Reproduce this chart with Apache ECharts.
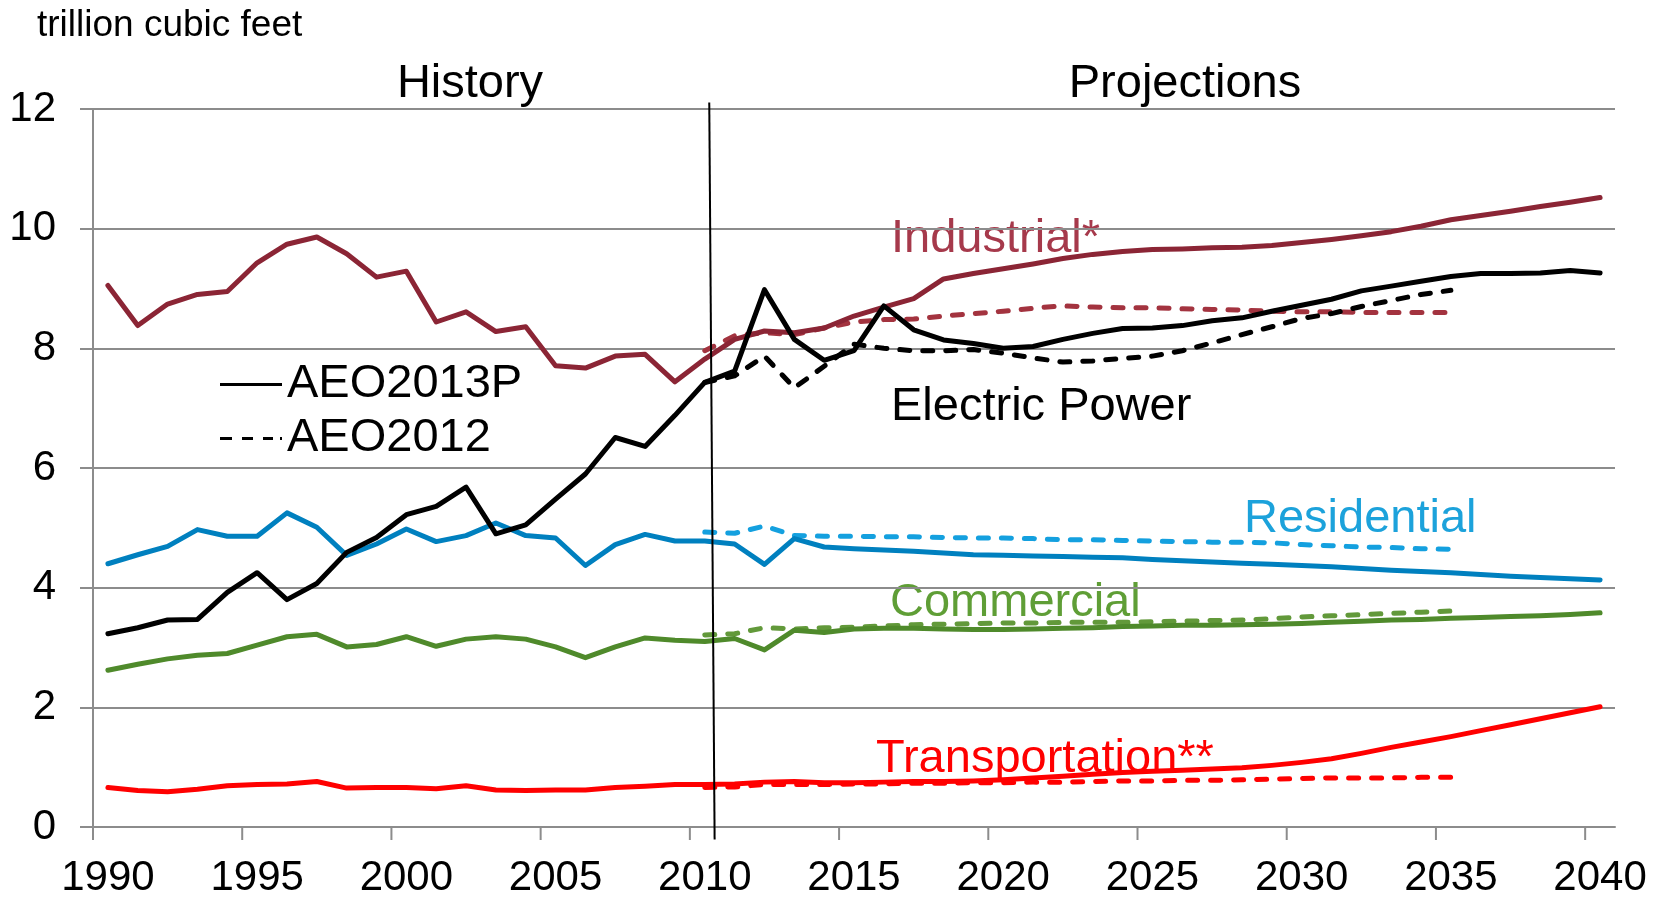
<!DOCTYPE html>
<html><head><meta charset="utf-8">
<script src="https://cdn.jsdelivr.net/npm/echarts@6/dist/echarts.min.js"></script>
<style>html,body{margin:0;padding:0;background:#fff}#c{width:1660px;height:899px}</style>
</head><body><div id="c"></div>
<script>
// ---------- data (trillion cubic feet) ----------
const years = ['1990','1991','1992','1993','1994','1995','1996','1997','1998','1999',
  '2000','2001','2002','2003','2004','2005','2006','2007','2008','2009',
  '2010','2011','2012','2013','2014','2015','2016','2017','2018','2019',
  '2020','2021','2022','2023','2024','2025','2026','2027','2028','2029',
  '2030','2031','2032','2033','2034','2035','2036','2037','2038','2039','2040'];
const yTicks = [0, 2, 4, 6, 8, 10, 12];
// x tick marks sit on the left edge of every fifth year band
const xTickPos = [1989.5, 1994.5, 1999.5, 2004.5, 2009.5, 2014.5, 2019.5, 2024.5, 2029.5, 2034.5, 2039.5];

// AEO2013P: 1990-2040
const industrial13 = [9.05,8.38,8.74,8.90,8.95,9.43,9.74,9.86,9.58,9.19,
  9.29,8.44,8.61,8.28,8.36,7.71,7.67,7.87,7.90,7.44,
  7.82,8.15,8.29,8.26,8.34,8.54,8.69,8.83,9.16,9.25,
  9.33,9.41,9.50,9.57,9.62,9.65,9.66,9.68,9.69,9.72,
  9.77,9.82,9.88,9.95,10.04,10.15,10.22,10.29,10.37,10.44,10.52];
const electric13 = [3.23,3.33,3.46,3.47,3.92,4.25,3.80,4.07,4.59,4.84,
  5.22,5.36,5.68,4.90,5.05,5.48,5.90,6.51,6.36,6.88,
  7.43,7.62,8.98,8.15,7.80,7.96,8.71,8.31,8.14,8.08,
  8.00,8.03,8.15,8.25,8.33,8.34,8.38,8.46,8.51,8.62,
  8.72,8.82,8.96,9.04,9.12,9.20,9.25,9.25,9.26,9.30,9.26];
const residential13 = [4.40,4.55,4.69,4.97,4.86,4.86,5.25,5.01,4.54,4.73,
  4.98,4.77,4.87,5.08,4.87,4.83,4.37,4.72,4.89,4.78,
  4.78,4.73,4.39,4.82,4.68,4.65,4.63,4.61,4.58,4.55,
  4.54,4.53,4.52,4.51,4.50,4.47,4.45,4.43,4.41,4.39,
  4.37,4.35,4.32,4.29,4.27,4.25,4.22,4.19,4.17,4.15,4.13];
const commercial13 = [2.62,2.72,2.81,2.87,2.90,3.04,3.18,3.22,3.01,3.05,
  3.18,3.02,3.14,3.18,3.14,3.01,2.83,3.01,3.16,3.12,
  3.10,3.15,2.96,3.29,3.25,3.31,3.32,3.32,3.31,3.30,
  3.30,3.31,3.32,3.33,3.35,3.36,3.37,3.37,3.38,3.39,
  3.40,3.42,3.44,3.46,3.47,3.49,3.50,3.52,3.53,3.55,3.58];
const transport13 = [0.66,0.61,0.59,0.63,0.69,0.71,0.72,0.76,0.65,0.66,
  0.66,0.64,0.69,0.62,0.61,0.62,0.62,0.66,0.68,0.71,
  0.71,0.72,0.75,0.76,0.74,0.74,0.75,0.76,0.76,0.77,
  0.79,0.82,0.85,0.88,0.91,0.93,0.95,0.97,0.99,1.03,
  1.08,1.14,1.23,1.33,1.42,1.51,1.61,1.71,1.81,1.91,2.01];

// AEO2012: 2010-2035
const industrial12 = [7.96,8.21,8.26,8.23,8.34,8.44,8.48,8.49,8.54,8.58,
  8.62,8.67,8.71,8.69,8.68,8.68,8.66,8.65,8.64,8.62,8.61,8.61,8.60,8.60,8.60,8.60];
const electric12 = [7.43,7.54,7.87,7.34,7.70,8.07,8.00,7.96,7.96,7.98,
  7.92,7.84,7.77,7.79,7.83,7.87,7.96,8.09,8.23,8.36,8.50,8.58,8.70,8.80,8.90,8.97];
const residential12 = [4.93,4.91,5.03,4.87,4.86,4.86,4.85,4.85,4.84,4.83,
  4.83,4.82,4.80,4.80,4.79,4.78,4.77,4.76,4.76,4.75,4.72,4.70,4.68,4.67,4.65,4.64];
const commercial12 = [3.21,3.23,3.33,3.31,3.33,3.34,3.36,3.38,3.39,3.40,
  3.41,3.41,3.42,3.42,3.42,3.43,3.44,3.45,3.46,3.48,3.51,3.53,3.55,3.57,3.59,3.61];
const transport12 = [0.66,0.67,0.71,0.71,0.71,0.72,0.72,0.73,0.73,0.74,
  0.74,0.75,0.75,0.76,0.77,0.77,0.78,0.78,0.79,0.80,0.81,0.82,0.82,0.82,0.83,0.83];

// history / projections divider (year, value) endpoints
const dividerPts = [[2010.15, 12.11], [2010.33, -0.21]];

// ---------- chart ----------
const FONT = '"Liberation Sans", Arial, Helvetica, sans-serif';
const GRAY = '#8c8c8c';
const LW = 5;
const DASH = [10, 13];
const TICK_LEN = 13;
const C = {
  ind: '#8b2535', indD: '#a3333f', indL: '#a6394b',
  res: '#0080bf', resD: '#14a0df', resL: '#1ca2db',
  com: '#4f8a2b', comD: '#62993a', comL: '#5f9e36',
  tra: '#ff0000', ele: '#000000'
};
function pad12(arr) {
  const out = years.map(() => null);
  const start = years.indexOf('2010');
  arr.forEach((v, i) => { out[start + i] = v; });
  return out;
}
function solid(name, data, color, z) {
  return { type: 'line', name, data, symbol: 'none', silent: true, z: z,
    lineStyle: { color, width: LW, cap: 'round', join: 'round' }, itemStyle: { color } };
}
function dashed(name, data, color, z) {
  return { type: 'line', name, data: pad12(data), symbol: 'none', silent: true, z: z,
    connectNulls: false,
    lineStyle: { color, width: LW, type: DASH, cap: 'round', join: 'round' }, itemStyle: { color } };
}

const chart = echarts.init(document.getElementById('c'), null, { renderer: 'canvas' });
chart.setOption({
  animation: false,
  backgroundColor: '#ffffff',
  textStyle: { fontFamily: FONT },
  grid: { left: 93, right: 45, top: 109, bottom: 70, containLabel: false },
  legend: {
    data: [
      { name: 'AEO2013P', icon: 'rect' },
      { name: 'AEO2012', icon: 'path://M0 0h12v3h-12z M22 0h11v3h-11z M43 0h10v3h-10z M60 0h2v3h-2z' }
    ],
    orient: 'vertical', left: 215, top: 356,
    itemWidth: 62, itemHeight: 3, itemGap: 7,
    symbolKeepAspect: false,
    selectedMode: false,
    itemStyle: { color: '#000', borderWidth: 0 },
    textStyle: { fontSize: 47, fontFamily: FONT, color: '#000', lineHeight: 47 }
  },
  xAxis: [{
    type: 'category', data: years, boundaryGap: true,
    axisLine: { lineStyle: { color: GRAY, width: 2 } },
    axisTick: { show: false },
    axisLabel: { interval: 4, fontSize: 42, margin: 30, color: '#000', fontFamily: FONT },
    splitLine: { show: false }
  }, {
    type: 'value', min: 1989.5, max: 2040.5, show: false
  }],
  yAxis: {
    type: 'value', min: yTicks[0], max: yTicks[yTicks.length - 1], interval: 2,
    axisLine: { show: true, lineStyle: { color: GRAY, width: 2 } },
    axisTick: { show: true, length: TICK_LEN, lineStyle: { color: GRAY, width: 2 } },
    axisLabel: { fontSize: 42, margin: 37, color: '#000', fontFamily: FONT },
    splitLine: { show: true, lineStyle: { color: GRAY, width: 2 } }
  },
  series: [
    dashed('Industrial AEO2012', industrial12, C.indD, 2),
    dashed('Residential AEO2012', residential12, C.resD, 2),
    dashed('Commercial AEO2012', commercial12, C.comD, 2),
    dashed('Transportation AEO2012', transport12, C.tra, 2),
    solid('Industrial', industrial13, C.ind, 3),
    solid('Residential', residential13, C.res, 3),
    solid('Commercial', commercial13, C.com, 3),
    solid('Transportation', transport13, C.tra, 3),
    dashed('Electric Power AEO2012', electric12, C.ele, 4),
    solid('Electric Power', electric13, C.ele, 5),
    { type: 'line', name: 'AEO2013P', data: [], symbol: 'none',
      lineStyle: { color: '#000', width: 3 }, itemStyle: { color: '#000' } },
    { type: 'line', name: 'AEO2012', data: [], symbol: 'none',
      lineStyle: { color: '#000', width: 3, type: DASH }, itemStyle: { color: '#000' } },
    { type: 'line', name: 'divider', xAxisIndex: 1, data: dividerPts, symbol: 'none',
      clip: false, silent: true, z: 6, lineStyle: { color: '#000', width: 2 } },
    { type: 'custom', name: 'xTicks', xAxisIndex: 1, silent: true, clip: false, z: 1,
      data: xTickPos.map(x => [x, yTicks[0]]),
      renderItem: function (params, api) {
        const p = api.coord([api.value(0), api.value(1)]);
        return { type: 'line', shape: { x1: p[0], y1: p[1], x2: p[0], y2: p[1] + TICK_LEN },
          style: { stroke: GRAY, lineWidth: 2 } };
      } }
  ],
  graphic: [
    { type: 'text', x: 37, y: 26, style: { text: 'trillion cubic feet', font: '37px ' + FONT, fill: '#000', align: 'left', verticalAlign: 'middle' } },
    { type: 'text', x: 470, y: 84, style: { text: 'History', font: '47px ' + FONT, fill: '#000', align: 'center', verticalAlign: 'middle' } },
    { type: 'text', x: 1185, y: 84, style: { text: 'Projections', font: '47px ' + FONT, fill: '#000', align: 'center', verticalAlign: 'middle' } },
    { type: 'text', x: 891, y: 239, style: { text: 'Industrial*', font: '47px ' + FONT, fill: C.indL, align: 'left', verticalAlign: 'middle' } },
    { type: 'text', x: 891, y: 407, style: { text: 'Electric Power', font: '47px ' + FONT, fill: '#000', align: 'left', verticalAlign: 'middle' } },
    { type: 'text', x: 1244, y: 519, style: { text: 'Residential', font: '47px ' + FONT, fill: C.resL, align: 'left', verticalAlign: 'middle' } },
    { type: 'text', x: 890, y: 603, style: { text: 'Commercial', font: '47px ' + FONT, fill: C.comL, align: 'left', verticalAlign: 'middle' } },
    { type: 'text', x: 876, y: 759, style: { text: 'Transportation**', font: '47px ' + FONT, fill: C.tra, align: 'left', verticalAlign: 'middle' } }
  ]
});
</script>
</body></html>
